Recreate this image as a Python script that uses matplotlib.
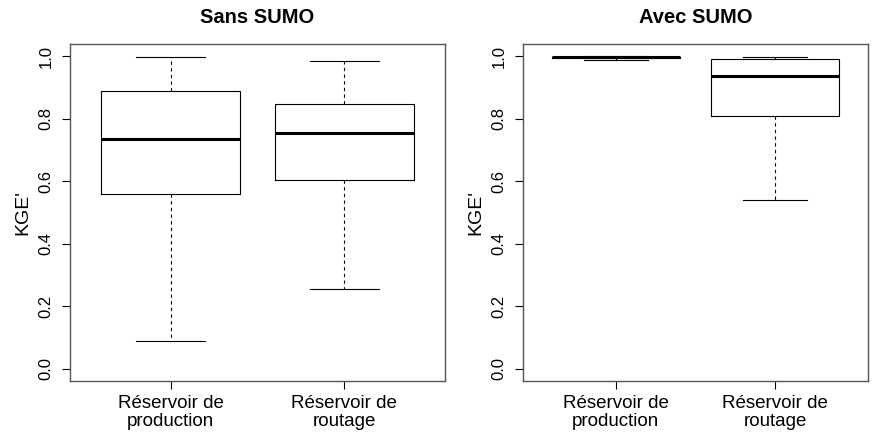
import matplotlib.pyplot as plt

plt.rcParams['font.family'] = ['Liberation Sans', 'DejaVu Sans']

categories = ["Réservoir de\nproduction", "Réservoir de\nroutage"]
titles = ["Sans SUMO", "Avec SUMO"]

# five-number summaries per panel: lower whisker, q1, median, q3, upper whisker
sans_low = [0.089, 0.255]
sans_q1 = [0.558, 0.605]
sans_med = [0.737, 0.755]
sans_q3 = [0.889, 0.848]
sans_high = [0.999, 0.986]

avec_low = [0.989, 0.539]
avec_q1 = [0.996, 0.808]
avec_med = [0.998, 0.936]
avec_q3 = [0.999, 0.993]
avec_high = [1.0, 0.998]

yticks = [0.0, 0.2, 0.4, 0.6, 0.8, 1.0]


def make_stats(low, q1, med, q3, high):
    stats = []
    for i in range(len(low)):
        stats.append({"whislo": low[i], "q1": q1[i], "med": med[i],
                      "q3": q3[i], "whishi": high[i], "fliers": []})
    return stats


def draw(ax, stats, title):
    ax.bxp(stats, positions=[1, 2], widths=0.8, showfliers=False,
           boxprops=dict(color="black", linewidth=0.8),
           medianprops=dict(color="black", linewidth=2.2),
           whiskerprops=dict(color="black", linewidth=0.8, linestyle=(0, (3, 3))),
           capprops=dict(color="black", linewidth=0.8),
           capwidths=0.4)
    ax.set_xlim(0.42, 2.58)
    ax.set_ylim(-0.04, 1.04)
    ax.set_yticks(yticks)
    ax.set_yticklabels(["%.1f" % t for t in yticks], rotation=90, va="center", fontsize=12)
    ax.set_xticks([1, 2])
    ax.set_xticklabels(categories, fontsize=13.5, linespacing=1.05)
    ax.tick_params(direction="out", length=6, width=0.8)
    ax.tick_params(axis="y", pad=6)
    ax.tick_params(axis="x", pad=4)
    ax.set_ylabel("KGE'", fontsize=14, labelpad=5)
    ax.set_title(title, fontsize=14.5, fontweight="bold", pad=15)
    for s in ax.spines.values():
        s.set_color("#555555")
        s.set_linewidth(1.0)


fig = plt.figure(figsize=(8.87, 4.34), dpi=100)
ax1 = fig.add_axes([70 / 887, 53 / 434, 375 / 887, 337 / 434])
ax2 = fig.add_axes([523 / 887, 53 / 434, 345 / 887, 337 / 434])

draw(ax1, make_stats(sans_low, sans_q1, sans_med, sans_q3, sans_high), titles[0])
draw(ax2, make_stats(avec_low, avec_q1, avec_med, avec_q3, avec_high), titles[1])

fig.savefig("out.png", dpi=100)
